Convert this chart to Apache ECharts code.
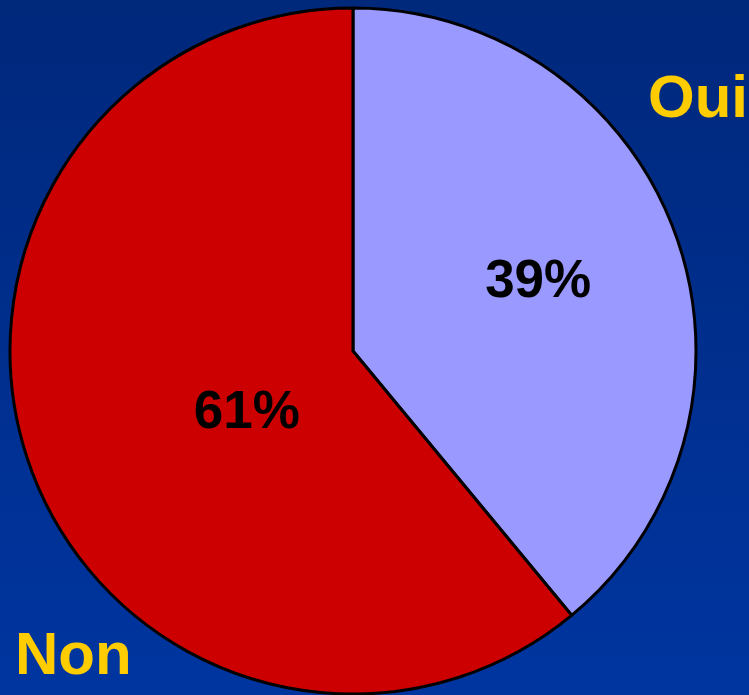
<!DOCTYPE html>
<html>
<head>
<meta charset="utf-8">
<script src="https://cdn.jsdelivr.net/npm/echarts@6/dist/echarts.min.js"></script>
<style>
  html, body { margin: 0; padding: 0; }
  #chart { width: 749px; height: 695px; }
</style>
</head>
<body>
<div id="chart"></div>
<script>
// Answers and their shares (percent)
const categories = ['Oui', 'Non'];
const shares = [39, 61];
const sliceColors = ['#9999ff', '#cc0000'];

const chart = echarts.init(document.getElementById('chart'));

const labelOffsets = [[21, -9], [58, 3]];

chart.setOption({
  backgroundColor: {
    type: 'linear', x: 0, y: 0, x2: 0, y2: 1,
    colorStops: [
      { offset: 0, color: '#00287b' },
      { offset: 1, color: '#0035a0' }
    ]
  },
  animation: false,
  series: [{
    type: 'pie',
    center: [353, 351],
    radius: 343,
    startAngle: 90,
    clockwise: true,
    avoidLabelOverlap: false,
    itemStyle: { borderColor: '#000000', borderWidth: 3 },
    label: {
      show: true,
      position: 'inside',
      formatter: '{c}%',
      color: '#000000',
      fontFamily: 'Liberation Sans, Arial, sans-serif',
      fontWeight: 'bold',
      fontSize: 53
    },
    labelLine: { show: false },
    data: categories.map((name, i) => ({
      name,
      value: shares[i],
      itemStyle: { color: sliceColors[i] },
      label: { offset: labelOffsets[i] }
    }))
  }],
  graphic: [
    {
      type: 'text', left: 648, top: 70,
      style: {
        text: categories[0], fill: '#ffcc00',
        font: 'bold 60px "Liberation Sans", Arial, sans-serif'
      }
    },
    {
      type: 'text', left: 15, top: 627,
      style: {
        text: categories[1], fill: '#ffcc00',
        font: 'bold 60px "Liberation Sans", Arial, sans-serif'
      }
    }
  ]
});
</script>
</body>
</html>
